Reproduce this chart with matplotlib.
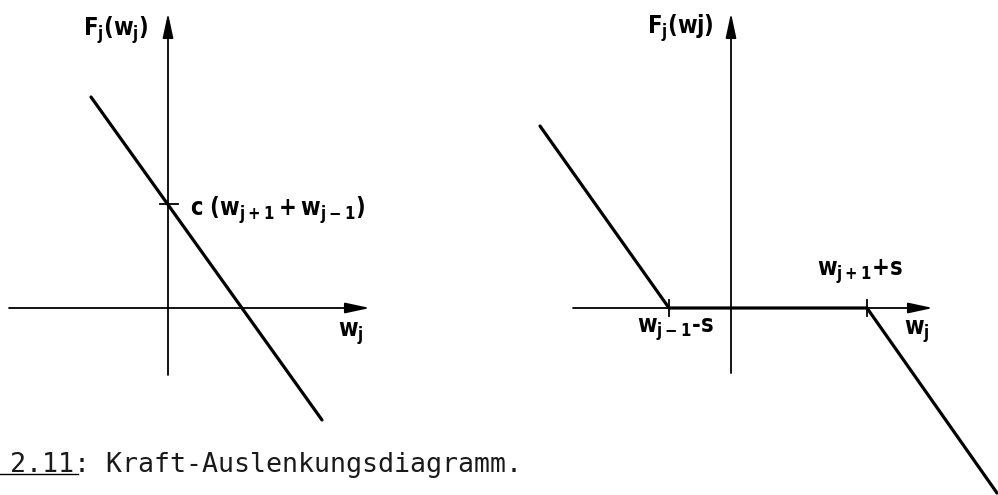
import matplotlib.pyplot as plt
from matplotlib.lines import Line2D

plt.rcParams['mathtext.fontset'] = 'custom'
plt.rcParams['mathtext.rm'] = 'DejaVu Sans:bold:stretch=condensed'
plt.rcParams['mathtext.it'] = 'DejaVu Sans:bold:stretch=condensed'
plt.rcParams['mathtext.bf'] = 'DejaVu Sans:bold:stretch=condensed'

# force-displacement characteristic, linear spring (left)
lin_x = [-7.7, 15.4]
lin_y = [21.1, -11.2]
lin_intercept = 10.4

# with gap s on both sides (right): slope, dead band, slope
gap_x = [-19.1, -6.2, 13.6, 26.6]
gap_y = [18.2, 0.0, 0.0, -18.5]
gap_ticks = [-6.2, 13.6]

# axis extents (x from, x to, y from, y to)
left_axes = [-15.9, 20.2, -6.7, 29.5]
right_axes = [-15.8, 20.2, -6.5, 29.5]

caption = '2.11: Kraft-Auslenkungsdiagramm.'

fig = plt.figure(figsize=(9.98, 4.95), dpi=100)
ax1 = fig.add_axes([0, 0, 479 / 998, 1])
ax2 = fig.add_axes([479 / 998, 0, 519 / 998, 1])
ax1.set_xlim(-16.8, 31.1)
ax2.set_xlim(-25.2, 26.7)
for ax in (ax1, ax2):
    ax.set_ylim(-18.7, 30.8)
    ax.axis('off')


def draw_axes(ax, ext):
    x0, x1, y0, y1 = ext
    arrow = dict(arrowstyle='-|>,head_length=0.75,head_width=0.16',
                 color='black', lw=1.3, mutation_scale=20, shrinkA=0, shrinkB=0)
    ax.annotate('', xy=(x1, 0), xytext=(x0, 0), arrowprops=arrow)
    ax.annotate('', xy=(0, y1), xytext=(0, y0), arrowprops=arrow)


lab = dict(fontsize=17, color='black', fontweight='bold', fontstretch='condensed')

# left diagram
draw_axes(ax1, left_axes)
ax1.plot(lin_x, lin_y, color='black', lw=2.3, solid_capstyle='round', clip_on=False)
ax1.plot([-0.8, 1.0], [lin_intercept, lin_intercept], color='black', lw=1.3)
ax1.text(-5.2, 27.8, r'$F_j(w_j)$', ha='center', va='center', **lab)
ax1.text(2.2, 9.8, r'$c\ (w_{j+1}+w_{j-1})$', ha='left', va='center', **lab)
ax1.text(18.3, -2.6, r'$w_j$', ha='center', va='center', **lab)

# right diagram
draw_axes(ax2, right_axes)
ax2.plot(gap_x, gap_y, color='black', lw=2.3, solid_capstyle='round', clip_on=False)
for t in gap_ticks:
    ax2.plot([t, t], [-0.8, 0.8], color='black', lw=1.3)
ax2.text(-5.1, 28.0, r'$F_j(wj)$', ha='center', va='center', **lab)
ax2.text(-5.6, -2.2, r'$w_{j-1}$-s', ha='center', va='center', **lab)
ax2.text(12.9, 3.6, r'$w_{j+1}$+s', ha='center', va='center', **lab)
ax2.text(18.6, -2.4, r'$w_j$', ha='center', va='center', **lab)

# caption with underlined figure number
fig.text(10 / 998, 23 / 495, caption, family='DejaVu Sans Mono', fontsize=19.2,
         ha='left', va='baseline', color='#1a1a1a')
fig.add_artist(Line2D([0, 78 / 998], [21 / 495, 21 / 495], color='black', lw=1.0))

fig.savefig('out.png', dpi=100)
